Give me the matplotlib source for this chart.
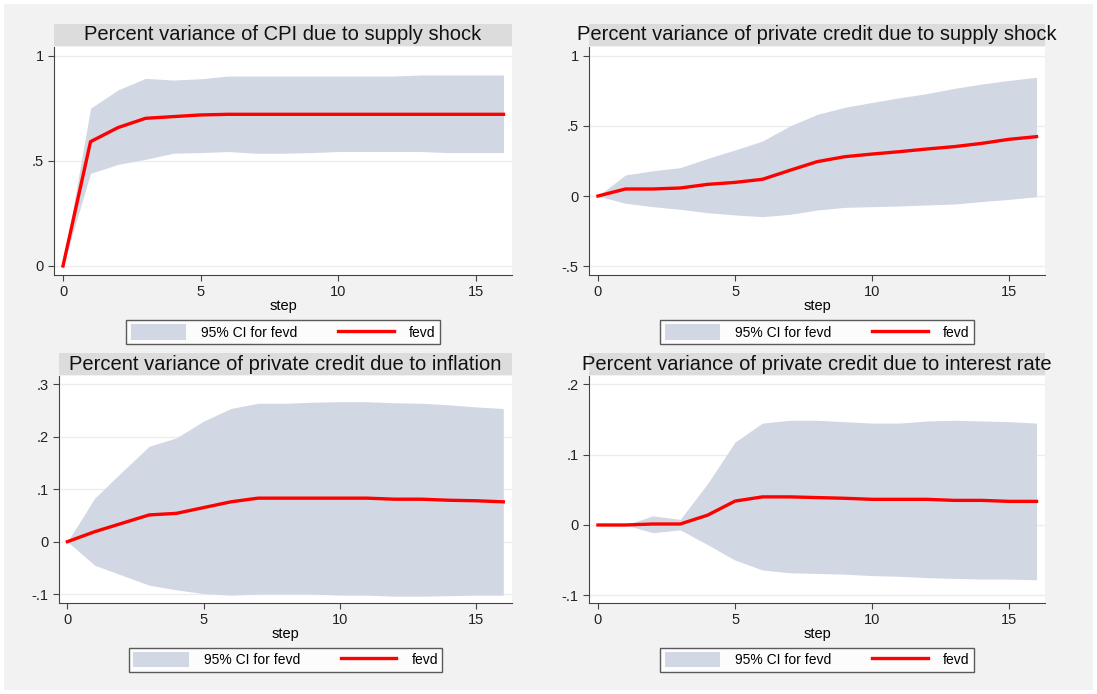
import matplotlib.pyplot as plt
from matplotlib.patches import Rectangle, Patch
from matplotlib.lines import Line2D
import numpy as np

plt.rcParams['font.family'] = ['Liberation Sans', 'DejaVu Sans']

steps = list(range(17))

# panel 1: CPI due to supply shock
cpi_fevd = [0, 0.591, 0.658, 0.702, 0.710, 0.718, 0.721, 0.721, 0.721, 0.721, 0.721, 0.721, 0.721, 0.721, 0.721, 0.721, 0.721]
cpi_hi = [0, 0.750, 0.837, 0.892, 0.884, 0.890, 0.903, 0.903, 0.903, 0.903, 0.903, 0.903, 0.903, 0.908, 0.908, 0.908, 0.908]
cpi_lo = [0, 0.440, 0.483, 0.507, 0.536, 0.539, 0.544, 0.536, 0.536, 0.539, 0.544, 0.544, 0.544, 0.544, 0.539, 0.539, 0.539]

# panel 2: private credit due to supply shock
pc_sup_fevd = [0, 0.050, 0.050, 0.057, 0.083, 0.097, 0.119, 0.183, 0.245, 0.280, 0.299, 0.316, 0.335, 0.352, 0.375, 0.404, 0.423]
pc_sup_hi = [0, 0.150, 0.180, 0.202, 0.268, 0.328, 0.392, 0.499, 0.582, 0.632, 0.667, 0.700, 0.730, 0.767, 0.798, 0.824, 0.846]
pc_sup_lo = [0, -0.052, -0.076, -0.095, -0.119, -0.135, -0.147, -0.131, -0.100, -0.081, -0.076, -0.071, -0.064, -0.057, -0.040, -0.024, -0.005]

# panel 3: private credit due to inflation
pc_inf_fevd = [0, 0.019, 0.035, 0.051, 0.054, 0.065, 0.076, 0.083, 0.083, 0.083, 0.083, 0.083, 0.081, 0.081, 0.079, 0.078, 0.076]
pc_inf_hi = [0, 0.083, 0.133, 0.182, 0.198, 0.230, 0.254, 0.264, 0.264, 0.266, 0.267, 0.267, 0.265, 0.264, 0.261, 0.257, 0.254]
pc_inf_lo = [0, -0.045, -0.064, -0.083, -0.092, -0.099, -0.102, -0.100, -0.100, -0.100, -0.102, -0.102, -0.104, -0.104, -0.103, -0.102, -0.102]

# panel 4: private credit due to interest rate
pc_ir_fevd = [0, 0, 0.0014, 0.0014, 0.014, 0.034, 0.040, 0.040, 0.039, 0.038, 0.0365, 0.0365, 0.0365, 0.035, 0.035, 0.0336, 0.0336]
pc_ir_hi = [0, 0, 0.013, 0.008, 0.059, 0.118, 0.145, 0.149, 0.149, 0.147, 0.145, 0.145, 0.148, 0.149, 0.148, 0.147, 0.145]
pc_ir_lo = [0, 0, -0.011, -0.007, -0.028, -0.050, -0.064, -0.068, -0.069, -0.070, -0.072, -0.073, -0.075, -0.076, -0.077, -0.077, -0.078]

titles = ["Percent variance of CPI due to supply shock",
          "Percent variance of private credit due to supply shock",
          "Percent variance of private credit due to inflation",
          "Percent variance of private credit due to interest rate"]
yticks = [[0, 0.5, 1], [-0.5, 0, 0.5, 1], [-0.1, 0, 0.1, 0.2, 0.3], [-0.1, 0, 0.1, 0.2]]
yticklabels = [["0", ".5", "1"], ["-.5", "0", ".5", "1"], ["-.1", "0", ".1", ".2", ".3"], ["-.1", "0", ".1", ".2"]]
xticks = [0, 5, 10, 15]

W, H = 1097, 694
fig = plt.figure(figsize=(W / 100, H / 100), dpi=100, facecolor='white')
fig.patches.append(Rectangle((4 / W, 4 / H), (W - 8) / W, (H - 8) / H, transform=fig.transFigure,
                             facecolor='#f2f2f2', edgecolor='none', zorder=-10))

# pixel boxes: left, top, right, bottom ; ylim
boxes = [(54, 47, 512, 275), (589, 47, 1045, 275), (59, 376, 512, 603), (589, 376, 1045, 603)]
ylims = [(-0.043, 1.041), (-0.563, 1.062), (-0.117, 0.316), (-0.111, 0.212)]
xlims = [(-0.327, 16.31), (-0.328, 16.31), (-0.31, 16.32), (-0.328, 16.31)]
series = [(cpi_fevd, cpi_lo, cpi_hi), (pc_sup_fevd, pc_sup_lo, pc_sup_hi),
          (pc_inf_fevd, pc_inf_lo, pc_inf_hi), (pc_ir_fevd, pc_ir_lo, pc_ir_hi)]

ci_col = '#d1d8e4'
for i in range(4):
    l, t, r, b = boxes[i]
    ax = fig.add_axes([l / W, (H - b) / H, (r - l) / W, (b - t) / H])
    ax.set_facecolor('white')
    fevd, lo, hi = series[i]
    ax.fill_between(steps, lo, hi, color=ci_col, linewidth=0, zorder=2)
    ax.plot(steps, fevd, color='#ff0000', linewidth=2.4, zorder=3)
    ax.set_xlim(*xlims[i])
    ax.set_ylim(*ylims[i])
    ax.set_xticks(xticks)
    ax.set_yticks(yticks[i])
    ax.set_yticklabels(yticklabels[i])
    ax.tick_params(labelsize=10.5, length=4, color='#444444', labelcolor='#222222')
    ax.grid(axis='y', color='#ececec', linewidth=1, zorder=0)
    for s in ['top', 'right']:
        ax.spines[s].set_visible(False)
    for s in ['left', 'bottom']:
        ax.spines[s].set_color('#444444')
    ax.set_xlabel('step', fontsize=10.5, labelpad=0)
    # title bar
    fig.patches.append(Rectangle((l / W, (H - t + 1) / H), (r - l) / W, 22 / H, transform=fig.transFigure,
                                 facecolor='#dcdcdc', edgecolor='none'))
    fig.text((l + r) / 2 / W, (H - t + 12) / H, titles[i], ha='center', va='center', fontsize=14.5, color='#111111')
    handles = [Patch(facecolor=ci_col, edgecolor='none'), Line2D([0], [0], color='#ff0000', linewidth=2.4)]
    leg = ax.legend(handles, ['95% CI for fevd', 'fevd'], ncol=2, loc='upper center',
                    bbox_to_anchor=(0.5, -0.168), frameon=True, fancybox=False, fontsize=10,
                    handlelength=4.0, handleheight=1.3, columnspacing=2.9, handletextpad=1.1,
                    borderpad=0.3, edgecolor='#333333')
    leg.get_frame().set_linewidth(1.0)

fig.savefig('out.png', dpi=100, facecolor=fig.get_facecolor())
